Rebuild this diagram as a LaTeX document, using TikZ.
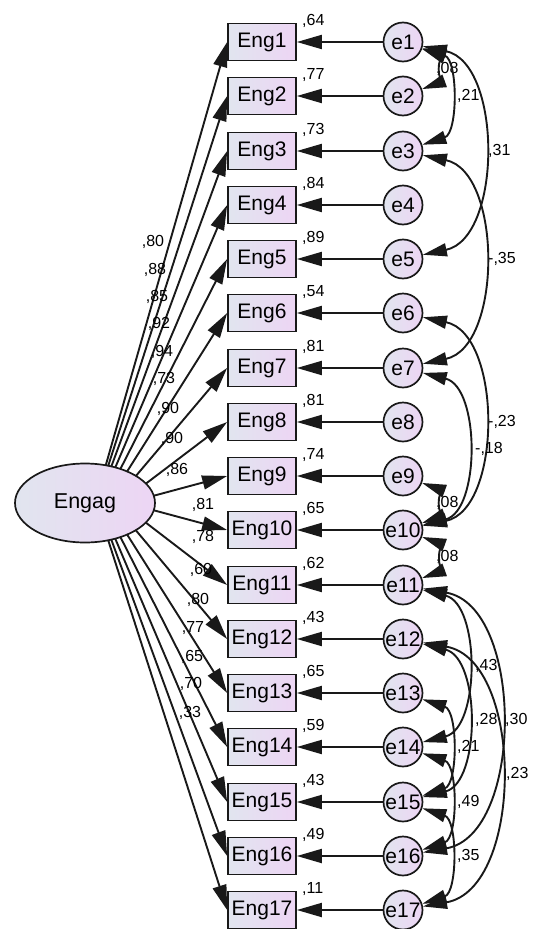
\documentclass[tikz,border=0pt]{standalone}
\usepackage{fontspec}
\setmainfont{Liberation Sans}
\usetikzlibrary{shapes.geometric,arrows.meta,calc}
\definecolor{amosblue}{RGB}{225,229,239}
\definecolor{amospink}{RGB}{237,213,244}
\definecolor{amosline}{RGB}{25,25,25}
\tikzset{
  obs/.style={draw=amosline, line width=1.7pt, left color=amosblue, right color=amospink,
    minimum width=68pt, minimum height=37pt, inner sep=0pt, font=\fontsize{21}{21}\selectfont},
  err/.style={circle, draw=amosline, line width=1.7pt, left color=amosblue, right color=amospink,
    minimum size=39pt, inner sep=0pt, font=\fontsize{21}{21}\selectfont},
  lat/.style={ellipse, draw=amosline, line width=1.7pt, left color=amosblue, right color=amospink,
    minimum width=140pt, minimum height=79pt, inner sep=0pt, font=\fontsize{21.5}{21.5}\selectfont},
  reg/.style={draw=amosline, line width=1.9pt, -{Triangle[length=25pt,width=14pt]}},
  cov/.style={draw=amosline, line width=1.9pt, {Triangle[length=24pt,width=13pt]}-{Triangle[length=24pt,width=13pt]}},
  est/.style={font=\fontsize{16}{16}\selectfont, inner sep=0pt, anchor=west}
}
\begin{document}
\begin{tikzpicture}[x=1pt,y=-1pt]
\useasboundingbox (0,0) rectangle (538,929);
\node[lat] (engag) at (85,503) {Engag};
\foreach \i/\v in {1/{,64},2/{,77},3/{,73},4/{,84},5/{,89},6/{,54},7/{,81},8/{,81},9/{,74},
    10/{,65},11/{,62},12/{,43},13/{,65},14/{,59},15/{,43},16/{,49},17/{,11}} {
  \node[obs] (eng\i) at (262,{round(42+(\i-1)*54.25)}) {Eng\i};
  \node[err] (e\i) at (403,{round(42+(\i-1)*54.25)}) {e\i};
  \node[est] (var\i) at (302,{round(21+(\i-1)*54.25)}) {\v};
  \draw[reg] (e\i) -- (eng\i);
}
\foreach \i/\v/\lx/\ly in {1/{,80}/153/242,2/{,88}/155/270,3/{,85}/157/297,4/{,92}/159/324,
    5/{,94}/162/352,6/{,73}/164/379,7/{,90}/168/409,8/{,90}/172/439,9/{,86}/177/470,
    10/{,81}/203/505,11/{,78}/203/537,12/{,60}/201/570,13/{,80}/198/600,14/{,77}/193/628,
    15/{,65}/192/657,16/{,70}/191/684,17/{,33}/190/713} {
  \node[est,anchor=center] (load\i) at (\lx,\ly) {\v};
  \draw[reg] let \p1=($(eng\i.west)-(engag.center)$), \n1={atan2(\y1,\x1)} in
    ($(engag.center)+(\n1:70pt and 39pt)$) -- (eng\i.west);
}
\foreach \a/\b/\ang/\v/\lx in {1/2/70/{,08}/436,1/3/72/{,21}/457,1/5/78/{,31}/488,3/7/78/{-,35}/488,
    6/10/78/{-,23}/488,7/10/76/{-,18}/475,9/10/70/{,08}/436,10/11/70/{,08}/436,11/14/76/{,43}/475,
    12/15/76/{,28}/475,11/16/80/{,30}/505,12/17/80/{,23}/506,13/15/72/{,21}/457,14/16/72/{,49}/457,
    15/17/72/{,35}/457} {
  \node[est] (r\a-\b) at (\lx,{round(42+((\a+\b)/2-1)*54.25)}) {\v};
  \draw[cov] (e\a) to[bend left=\ang] (e\b);
}
\end{tikzpicture}
\end{document}
